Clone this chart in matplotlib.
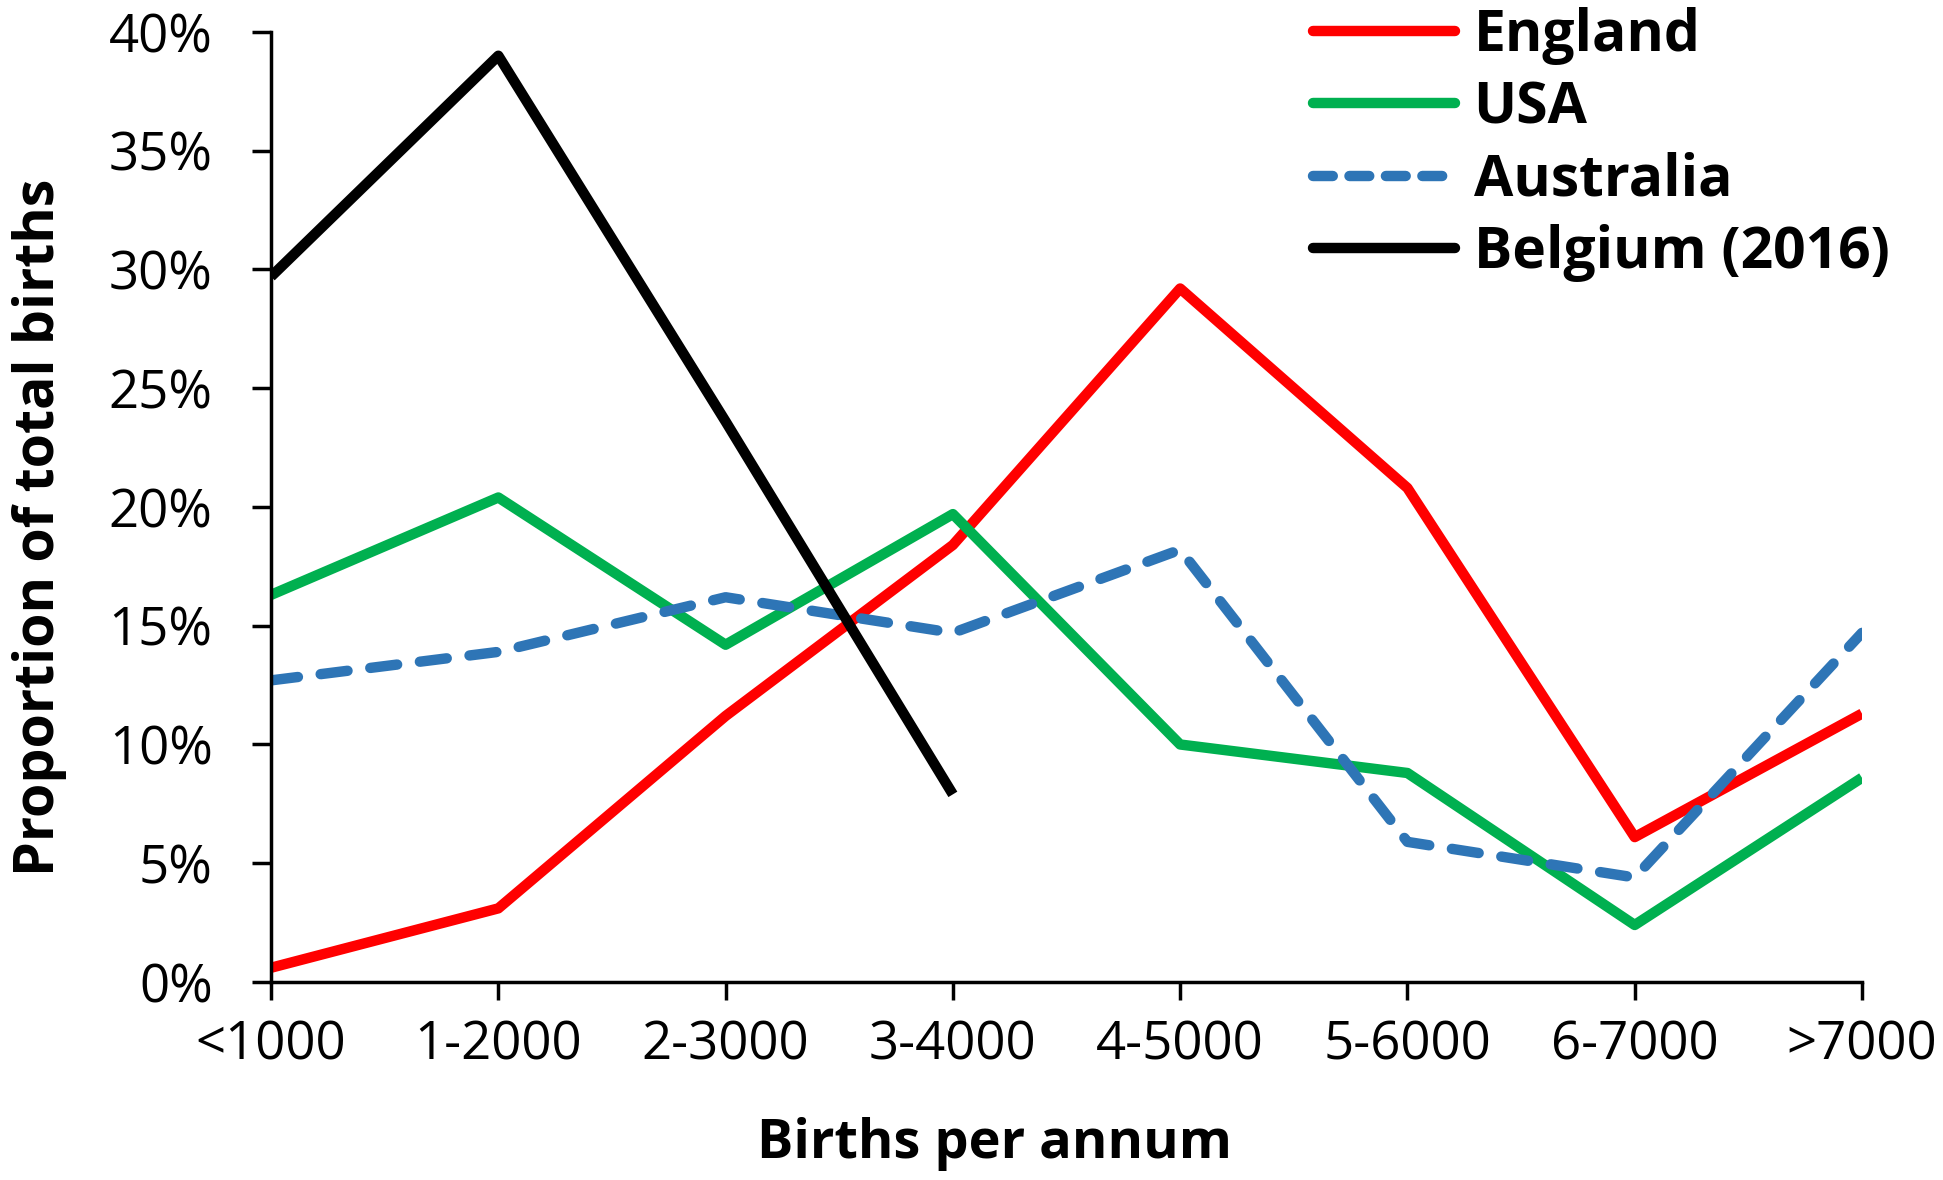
import matplotlib
matplotlib.use("Agg")
import matplotlib.pyplot as plt
from matplotlib.ticker import PercentFormatter

plt.rcParams['font.family'] = ['Open Sans', 'DejaVu Sans']

categories = ['<1000', '1-2000', '2-3000', '3-4000', '4-5000', '5-6000', '6-7000', '>7000']
england = [0.6, 3.1, 11.2, 18.4, 29.2, 20.8, 6.1, 11.3]
usa = [16.3, 20.4, 14.2, 19.7, 10.0, 8.8, 2.4, 8.6]
australia = [12.7, 13.9, 16.2, 14.7, 18.2, 5.9, 4.4, 14.7]
belgium = [29.7, 39.0, 23.6, 7.9]

x = list(range(len(categories)))

fig = plt.figure(figsize=(19.43, 11.8), dpi=100)
ax = fig.add_axes([0.1395, 0.1678, 0.8188, 0.8051])

lw = 7.5
ax.plot(x, england, color='#FF0000', lw=lw, label='England', solid_capstyle='butt')
ax.plot(x, usa, color='#00B050', lw=lw, label='USA', solid_capstyle='butt')
ax.plot(x, australia, color='#2E75B6', lw=lw, label='Australia',
        ls=(0, (2.6, 2.2)), dash_capstyle='round')
ax.plot(x[:len(belgium)], belgium, color='black', lw=lw, label='Belgium (2016)',
        solid_capstyle='butt')

ax.set_xlim(0, 7)
ax.set_ylim(0, 40)
ax.set_yticks(range(0, 41, 5))
ax.yaxis.set_major_formatter(PercentFormatter(decimals=0))
ax.set_xticks(x)
ax.set_xticklabels(categories)

for s in ['top', 'right']:
    ax.spines[s].set_visible(False)
for s in ['left', 'bottom']:
    ax.spines[s].set_linewidth(2.5)
ax.spines['bottom'].set_zorder(0)

ax.tick_params(axis='y', length=14, width=2.5, labelsize=38, pad=28)
ax.tick_params(axis='x', length=13, width=2.5, labelsize=38, pad=14)

# labels sit a little off-centre in the original
ax.set_xlabel('Births per annum', fontsize=39, fontweight='bold', labelpad=32, x=0.455)
ax.set_ylabel('Proportion of total births', fontsize=40, fontweight='bold', labelpad=30, y=0.479)

leg = fig.legend(loc='upper left', bbox_to_anchor=(1313 / 1943, 0.994),
                 frameon=False, prop={'size': 41, 'weight': 'bold'},
                 handlelength=2.5, handletextpad=0.32, labelspacing=0.25,
                 borderpad=0, borderaxespad=0)
for h in leg.get_lines():
    h.set_solid_capstyle('round')
leg.get_lines()[2].set_linestyle((0, (1.9, 1.6)))

fig.savefig('out.png', dpi=100)
